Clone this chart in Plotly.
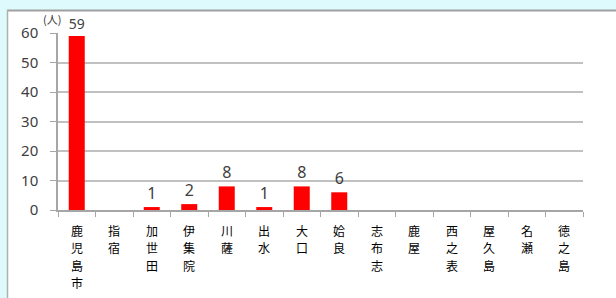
import plotly.graph_objects as go

categories = ["鹿児島市", "指宿", "加世田", "伊集院", "川薩", "出水", "大口", "姶良",
              "志布志", "鹿屋", "西之表", "屋久島", "名瀬", "徳之島"]
values = [59, 0, 1, 2, 8, 1, 8, 6, 0, 0, 0, 0, 0, 0]
y_ticks = [0, 10, 20, 30, 40, 50, 60]
unit_label = "(人)"

bar_text = [str(v) if v > 0 else "" for v in values]

W, H = 616, 298
L, R, T, B = 58, 33, 33, 88
pw = W - L - R
ph = H - T - B

def px(x):
    return (x - L) / pw

def py(y):
    return (H - B - y) / ph

fig = go.Figure()
fig.add_trace(go.Bar(
    x=categories, y=values,
    marker=dict(color="#ff0000", line=dict(width=0)),
    text=bar_text, textposition="outside", cliponaxis=False,
    textfont=dict(size=16, color="#404040", family="Noto Sans"),
))

# vertical (stacked) category labels, one character per line
annotations = []
pitch = 17.5
first_center = 230
for cat in categories:
    for i, ch in enumerate(cat):
        annotations.append(dict(
            text=ch, xref="x", yref="paper", x=cat, y=py(first_center + i * pitch),
            xanchor="center", yanchor="middle", showarrow=False,
            font=dict(size=12, color="#000000", family="Noto Sans CJK JP"),
        ))

annotations.append(dict(
    text=unit_label, xref="paper", yref="paper", x=px(41), y=py(9),
    xanchor="left", yanchor="top", showarrow=False,
    font=dict(size=11, color="#333333", family="Noto Sans CJK JP"),
))

fig.update_layout(
    width=W, height=H,
    margin=dict(l=L, r=R, t=T, b=B, autoexpand=False),
    paper_bgcolor="white", plot_bgcolor="white",
    bargap=0.573, showlegend=False,
    font=dict(family="Noto Sans CJK JP", color="#333333"),
    xaxis=dict(
        type="category", showticklabels=False,
        tickson="boundaries", ticks="outside", ticklen=5, tickcolor="#a6a6a6",
        showline=True, linecolor="#a6a6a6", linewidth=1.5,
        showgrid=False, range=[-0.5, len(categories) - 0.5], automargin=False,
    ),
    yaxis=dict(
        range=[0, 60], tickvals=y_ticks, ticks="outside", ticklen=6,
        tickcolor="#a6a6a6", showgrid=True, gridcolor="#c0c0c0", gridwidth=1.5,
        showline=True, linecolor="#a6a6a6", linewidth=1.5, zeroline=False,
        tickfont=dict(size=15, color="#404040", family="Noto Sans"),
        ticklabelstandoff=9, automargin=False,
    ),
    shapes=[
        dict(type="rect", xref="paper", yref="paper", x0=px(0), x1=px(W), y0=py(10), y1=py(0),
             fillcolor="#dffafc", line=dict(width=0), layer="below"),
        dict(type="rect", xref="paper", yref="paper", x0=px(0), x1=px(7), y0=py(H), y1=py(10),
             fillcolor="#dffafc", line=dict(width=0), layer="below"),
        dict(type="line", xref="paper", yref="paper", x0=px(7), x1=px(W), y0=py(10.5), y1=py(10.5),
             line=dict(color="#a0a0a0", width=2)),
        dict(type="line", xref="paper", yref="paper", x0=px(7.5), x1=px(7.5), y0=py(H), y1=py(10),
             line=dict(color="#b0b0b0", width=1.5)),
    ],
    annotations=annotations,
)

fig.write_html("out.html", config={"displayModeBar": False},
               post_script="document.body.style.margin='0';")
